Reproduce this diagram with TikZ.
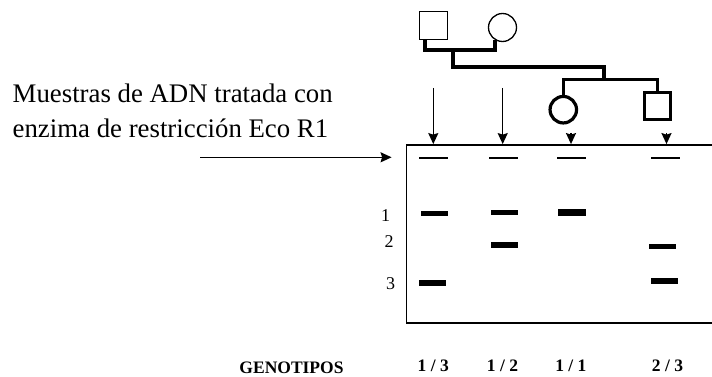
\documentclass[tikz,border=0pt]{standalone}
\usepackage{fontspec}
\setmainfont{Liberation Serif}
\usetikzlibrary{arrows.meta,positioning}

\begin{document}
\begin{tikzpicture}[x=1pt,y=-1pt,>={Stealth[length=11pt,width=10pt,inset=1.5pt]},
        parent/.style={draw,line width=1.3pt,minimum size=28pt,inner sep=0pt},
        child/.style={draw,line width=3.2pt,minimum size=26.5pt,inner sep=0pt},
        kin/.style={line width=3.5pt},
        band/.style={fill=black,inner sep=0pt,minimum width=27pt,minimum height=5.5pt},
        well/.style={band,minimum width=29pt,minimum height=1.4pt},
        lbl/.style={inner sep=0pt,font=\fontsize{18}{18}\selectfont},
        geno/.style={inner sep=0pt,font=\bfseries\fontsize{17.5}{18}\selectfont}]

  \useasboundingbox (0,0) rectangle (712,377);

  % pedigree
  \node[parent] (fa) at (433.5,25.5) {};
  \node[parent,circle] (mo) at (502.5,27.5) {};
  \node[child,circle] (da) at (563.3,109.7) {};
  \node[child] (so) at (657.5,106) {};

  \coordinate (mar) at (453,50);
  \coordinate (desc) at (604,67);
  \coordinate (sib) at (604,79.5);

  \draw[kin] ([xshift=-8.5pt]fa.south) |- (mar) -| (mo.240);
  \draw[kin] (mar) |- (desc) -- (sib);
  \draw[kin] (da.north) |- (sib) -| (so.north);

  % gel
  \node[draw,line width=1.8pt,minimum width=307pt,minimum height=178pt,
        inner sep=0pt] (gel) at (560,234) {};

  \node[anchor=base west,inner sep=0pt,font=\fontsize{26.8}{30}\selectfont]
        (t1) at (12.5,103) {Muestras de ADN tratada con};
  \node[anchor=base west,inner sep=0pt,font=\fontsize{26.8}{30}\selectfont]
        (t2) at (12.5,138) {enzima de restricción Eco R1};

  \coordinate (src) at (200,157.3);
  \coordinate (s1) at (433.3,88);
  \coordinate (s2) at (502.7,88);
  \coordinate (s3) at (571,133);
  \coordinate (s4) at (666.5,133);

  \path[->,line width=1.5pt]
        (src) edge ([xshift=-14pt]gel.west |- src)
        (s1) edge (s1 |- gel.north)
        (s2) edge (s2 |- gel.north)
        (s3) edge (s3 |- gel.north)
        (s4) edge (s4 |- gel.north);

  % wells
  \node[well] (w1) at (433.5,158) {};
  \node[well] (w2) at (503,158) {};
  \node[well] (w3) at (571.5,158) {};
  \node[well] (w4) at (665.5,158) {};

  % fragments
  \node[band] (b11) at (434.5,213.5) {};
  \node[band] (b13) at (432.5,283) {};
  \node[band] (b21) at (504,212.7) {};
  \node[band] (b22) at (504,245) {};
  \node[band,minimum width=28pt,minimum height=7.5pt] (b31) at (572,212.5) {};
  \node[band] (b42) at (662.5,246.5) {};
  \node[band] (b43) at (664.5,281) {};

  \node[lbl] (n1) at (385.5,215.5) {1};
  \node[lbl] (n2) at (389,241.7) {2};
  \node[lbl] (n3) at (390.5,284) {3};

  % genotypes
  \node[geno] (gt) at (291.5,367.5) {GENOTIPOS};
  \node[geno] (g1) at (433.3,366) {1 / 3};
  \node[geno] (g2) at (502.5,366) {1 / 2};
  \node[geno] (g3) at (570.8,366) {1 / 1};
  \node[geno] (g4) at (667.5,366) {2 / 3};

\end{tikzpicture}
\end{document}
